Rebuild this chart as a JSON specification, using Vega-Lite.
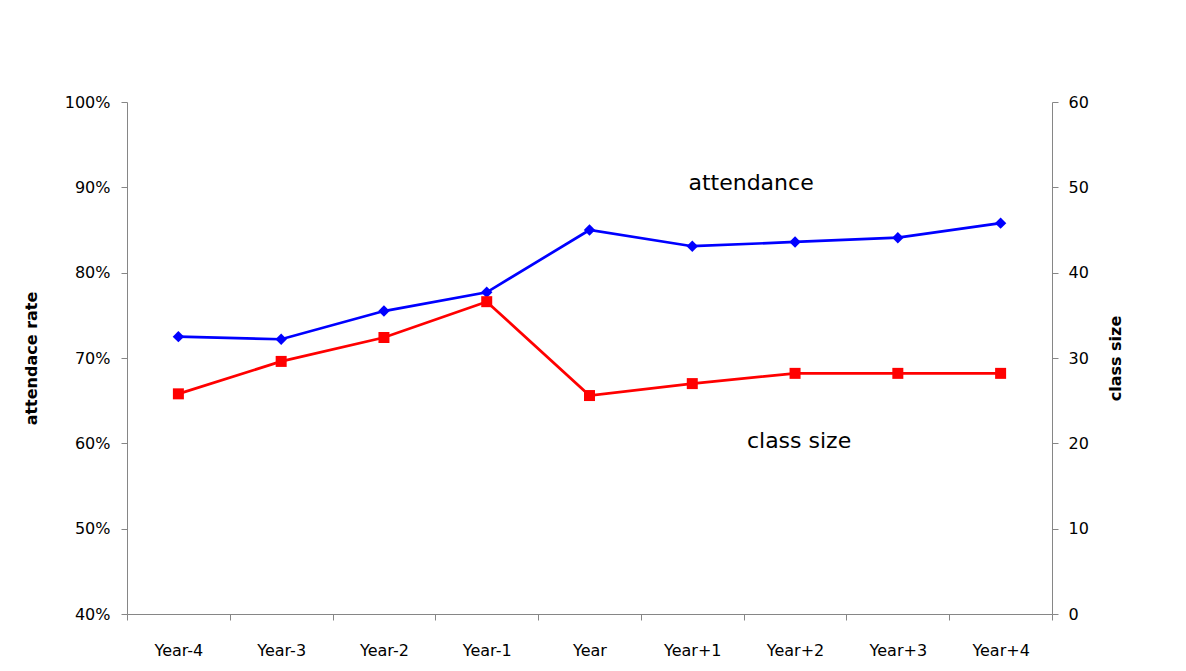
{
  "$schema": "https://vega.github.io/schema/vega-lite/v6.json",
  "width": 925,
  "height": 512,
  "autosize": {"type": "none"},
  "padding": {"left": 127, "top": 102, "right": 134, "bottom": 57},
  "background": "white",
  "config": {
    "view": {"stroke": null},
    "font": "DejaVu Sans",
    "axis": {
      "domainColor": "#868686",
      "tickColor": "#868686",
      "domainWidth": 1,
      "tickWidth": 1,
      "tickSize": 6,
      "labelFont": "DejaVu Sans",
      "labelFontSize": 16,
      "labelColor": "#000000",
      "titleFont": "DejaVu Sans",
      "titleFontSize": 16,
      "titleFontWeight": "bold",
      "titleColor": "#000000",
      "grid": false
    }
  },
  "datasets": {
    "main": [
      {"year": "Year-4", "attendance": 0.725, "classSize": 25.8},
      {"year": "Year-3", "attendance": 0.722, "classSize": 29.6},
      {"year": "Year-2", "attendance": 0.755, "classSize": 32.4},
      {"year": "Year-1", "attendance": 0.777, "classSize": 36.6},
      {"year": "Year", "attendance": 0.850, "classSize": 25.6},
      {"year": "Year+1", "attendance": 0.831, "classSize": 27.0},
      {"year": "Year+2", "attendance": 0.836, "classSize": 28.2},
      {"year": "Year+3", "attendance": 0.841, "classSize": 28.2},
      {"year": "Year+4", "attendance": 0.858, "classSize": 28.2}
    ]
  },
  "encoding": {
    "x": {
      "field": "year",
      "type": "nominal",
      "sort": ["Year-4", "Year-3", "Year-2", "Year-1", "Year", "Year+1", "Year+2", "Year+3", "Year+4"],
      "scale": {"paddingInner": 0, "paddingOuter": 0},
      "axis": {"title": null, "labelAngle": 0, "tickBand": "extent", "labelPadding": 22, "domain": true}
    }
  },
  "layer": [
    {
      "encoding": {
        "y": {
          "field": "attendance",
          "type": "quantitative",
          "scale": {"domain": [0.4, 1.0], "nice": false, "zero": false},
          "axis": {"orient": "left", "title": "attendace rate", "format": ".0%", "values": [0.4, 0.5, 0.6, 0.7, 0.8, 0.9, 1.0], "labelPadding": 11, "titlePadding": 25}
        }
      },
      "layer": [
        {
          "data": {"name": "main"},
          "mark": {"type": "line", "color": "#0000FF", "strokeWidth": 2.7, "point": {"shape": "diamond", "size": 130, "filled": true, "color": "#0000FF", "opacity": 1}}
        },
        {
          "data": {"values": [{"year": "Year+2", "attendance": 0.905, "label": "attendance"}]},
          "mark": {"type": "text", "font": "DejaVu Sans", "fontSize": 22, "color": "#000000", "baseline": "middle", "align": "center", "dx": -44},
          "encoding": {"text": {"field": "label"}}
        }
      ]
    },
    {
      "encoding": {
        "y": {
          "field": "classSize",
          "type": "quantitative",
          "scale": {"domain": [0, 60], "nice": false},
          "axis": {"orient": "right", "title": "class size", "titleAngle": -90, "values": [0, 10, 20, 30, 40, 50, 60], "labelPadding": 10, "titlePadding": 35}
        }
      },
      "layer": [
        {
          "data": {"name": "main"},
          "mark": {"type": "line", "color": "#FF0000", "strokeWidth": 2.7, "point": {"shape": "square", "size": 121, "filled": true, "color": "#FF0000", "opacity": 1}}
        },
        {
          "data": {"values": [{"year": "Year+2", "classSize": 20.3, "label": "class size"}]},
          "mark": {"type": "text", "font": "DejaVu Sans", "fontSize": 22, "color": "#000000", "baseline": "middle", "align": "center", "dx": 4},
          "encoding": {"text": {"field": "label"}}
        }
      ]
    }
  ],
  "resolve": {"scale": {"y": "independent"}}
}
